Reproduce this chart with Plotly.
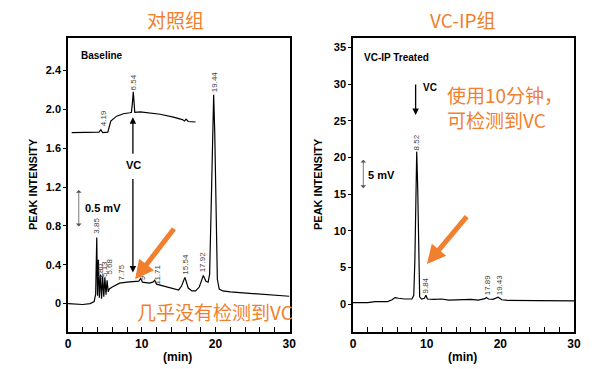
import plotly.graph_objects as go

# ---------------- data ----------------
# Left panel: main chromatogram (control)
ctrl_t = [0.0, 1.0, 2.0, 3.0, 3.55, 3.75, 3.9, 4.0, 4.12, 4.25, 4.4, 4.55, 4.7, 4.85, 5.0, 5.15,
          5.3, 5.45, 5.6, 6.0, 7.0, 8.0, 9.0, 9.6, 9.85, 10.1, 11.0, 11.5, 11.75, 12.0, 13.0,
          14.0, 15.0, 15.4, 15.85, 16.3, 16.8, 17.3, 17.8, 18.35, 18.7, 19.0, 19.2, 19.4,
          19.6, 19.75, 19.9, 20.05, 20.25, 20.5, 21.0, 22.0, 24.0, 26.6, 28.0, 30.0]
ctrl_v = [0.0, -0.005, -0.01, 0.0, 0.02, 0.10, 0.68, 0.08, 0.45, 0.06, 0.30, 0.05, 0.28, 0.07, 0.27, 0.09,
          0.24, 0.12, 0.15, 0.17, 0.21, 0.22, 0.225, 0.23, 0.26, 0.22, 0.21, 0.22, 0.24, 0.20, 0.18,
          0.16, 0.14, 0.18, 0.27, 0.16, 0.13, 0.13, 0.17, 0.29, 0.23, 0.22, 0.30, 0.95,
          1.75, 2.15, 1.75, 0.95, 0.25, 0.15, 0.13, 0.12, 0.11, 0.096, 0.085, 0.075]

# Left panel: baseline inset trace
base_t = [0.5, 3.7, 4.2, 4.45, 4.7, 5.4, 5.6, 5.8, 6.6, 7.5, 8.4, 8.6, 8.75, 8.85, 8.95, 9.05,
          9.8, 11.0, 12.5, 14.3, 15.5, 15.8, 16.0, 16.3, 17.3]
base_v = [1.76, 1.76, 1.765, 1.79, 1.76, 1.765, 1.82, 1.88, 1.93, 1.955, 1.965, 1.97, 2.08, 2.18, 2.08, 1.97,
          1.975, 1.965, 1.95, 1.92, 1.895, 1.88, 1.90, 1.875, 1.87]

# Right panel: VC-IP treated
trt_t = [0.0, 1.0, 2.0, 3.0, 4.0, 4.7, 5.3, 5.7, 6.2, 7.0, 8.0, 8.25, 8.4, 8.55, 8.65, 8.78, 8.92,
         9.05, 9.3, 9.7, 9.9, 10.1, 11.0, 12.0, 13.0, 14.0, 15.0, 16.0, 17.0, 17.9, 18.1, 18.4,
         19.0, 19.7, 20.2, 21.0, 25.0, 30.0]
trt_v = [0.2, 0.15, 0.2, 0.35, 0.4, 0.35, 0.6, 0.9, 0.8, 0.7, 0.7, 1.2, 6.0, 16.0, 20.8, 16.0, 6.0,
         1.0, 0.7, 0.8, 1.2, 0.7, 0.65, 0.7, 0.55, 0.6, 0.55, 0.65, 0.55, 0.75, 0.9, 0.7,
         0.65, 0.95, 0.6, 0.5, 0.48, 0.45]

# Peak labels (text, position of label)
ctrl_peak_labels = ["3.85", "4.80", "5.13", "5.68", "7.75", "9", "11.71", "15.54", "17.92", "19.44"]
ctrl_peak_lx = [3.9, 4.35, 4.94, 5.62, 7.31, 10.03, 12.07, 15.92, 18.19, 19.8]
ctrl_peak_ly = [0.80, 0.33, 0.36, 0.385, 0.32, 0.27, 0.30, 0.405, 0.426, 2.28]
base_peak_labels = ["4.19", "6.54"]
base_peak_lx = [4.75, 8.84]
base_peak_ly = [1.91, 2.28]
trt_peak_labels = ["8.52", "9.84", "17.89", "19.43"]
trt_peak_lx = [8.64, 9.9, 18.22, 19.85]
trt_peak_ly = [22.0, 2.53, 2.6, 2.6]

x_tickvals = list(range(0, 31, 2))
x_ticktext = [str(v) if v % 10 == 0 else "" for v in x_tickvals]
left_y_ticks = [0, 0.4, 0.8, 1.2, 1.6, 2.0, 2.4]
left_y_text = ["0", "0.4", "0.8", "1.2", "1.6", "2.0", "2.4"]
right_y_ticks = [0, 5, 10, 15, 20, 25, 30, 35]

# ---------------- figure ----------------
W, H = 600, 369
ORANGE = "#F07F2E"
LAT = "Liberation Sans, Arial, sans-serif"
CJK = "Noto Sans CJK SC, sans-serif"

def px(x):
    return x / W

def py(y):
    return 1 - y / H

fig = go.Figure()
line = dict(color="black", width=1.2)
fig.add_trace(go.Scatter(x=ctrl_t, y=ctrl_v, mode="lines", line=line, xaxis="x", yaxis="y", hoverinfo="skip"))
fig.add_trace(go.Scatter(x=base_t, y=base_v, mode="lines", line=line, xaxis="x", yaxis="y", hoverinfo="skip"))
fig.add_trace(go.Scatter(x=trt_t, y=trt_v, mode="lines", line=line, xaxis="x2", yaxis="y2", hoverinfo="skip"))

ydom = [py(332), py(38)]
common_x = dict(range=[0, 30.1], tickvals=x_tickvals, ticktext=x_ticktext, ticks="inside", ticklen=5,
                tickcolor="black", tickwidth=1, showline=True, linecolor="black", linewidth=1.5,
                mirror=True, showgrid=False, zeroline=False, automargin=False,
                tickfont=dict(family=LAT, size=12, color="black", weight="bold"))
common_y = dict(ticks="outside", ticklen=3, tickcolor="black", tickwidth=1, showline=True,
                linecolor="black", linewidth=1.5, mirror=True, showgrid=False, zeroline=False,
                automargin=False,
                tickfont=dict(family=LAT, size=11, color="black", weight="bold"))

fig.update_layout(
    width=W, height=H, margin=dict(l=0, r=0, t=0, b=0, autoexpand=False),
    plot_bgcolor="white", paper_bgcolor="white", showlegend=False,
    xaxis=dict(domain=[px(68), px(290)], anchor="y", **common_x),
    yaxis=dict(domain=ydom, anchor="x", range=[-0.293, 2.735], tickvals=left_y_ticks,
               ticktext=left_y_text, **common_y),
    xaxis2=dict(domain=[px(353), px(574)], anchor="y2", **{**common_x, "range": [0, 30]}),
    yaxis2=dict(domain=ydom, anchor="x2", range=[-3.8, 36.3], tickvals=right_y_ticks, **common_y),
)

ann = []

def txt(text, x, y, xref, yref, size, color="black", bold=True, family=LAT, **kw):
    d = dict(text=text, x=x, y=y, xref=xref, yref=yref, showarrow=False,
             xanchor="center", yanchor="middle",
             font=dict(family=family, size=size, color=color, weight="bold" if bold else "normal"))
    d.update(kw)
    ann.append(d)

# titles
txt("对照组", px(175), py(20), "paper", "paper", 19, ORANGE, False, CJK)
txt("VC-IP组", px(462), py(20), "paper", "paper", 19, ORANGE, False, CJK)
# axis titles
txt("PEAK INTENSITY", px(33), py(184), "paper", "paper", 11, textangle=-90)
txt("PEAK INTENSITY", px(318), py(184), "paper", "paper", 11, textangle=-90)
txt("(min)", px(177), py(357), "paper", "paper", 12)
txt("(min)", px(462), py(357), "paper", "paper", 12)

# panel texts
txt("Baseline", 4.6, 2.55, "x", "y", 10)
txt("VC", 8.84, 1.43, "x", "y", 11)
txt("0.5 mV", 4.76, 0.98, "x", "y", 11)
txt("VC-IP Treated", 5.9, 33.6, "x2", "y2", 10)
txt("VC", 10.45, 29.5, "x2", "y2", 10)
txt("5 mV", 3.93, 17.6, "x2", "y2", 11)

# peak labels
for lab, lx, ly in zip(ctrl_peak_labels, ctrl_peak_lx, ctrl_peak_ly):
    txt(lab, lx, ly, "x", "y", 8, "#444", False, textangle=-90)
for lab, lx, ly in zip(base_peak_labels, base_peak_lx, base_peak_ly):
    txt(lab, lx, ly, "x", "y", 8, "#444", False, textangle=-90)
for lab, lx, ly in zip(trt_peak_labels, trt_peak_lx, trt_peak_ly):
    txt(lab, lx, ly, "x2", "y2", 8, "#444", False, textangle=-90)

def arrow(x, y, ax, ay, xref, yref, color="black", width=1.3, head=2, size=1.0, both=False):
    d = dict(text="", x=x, y=y, ax=ax, ay=ay, xref=xref, yref=yref, showarrow=True,
             arrowcolor=color, arrowwidth=width, arrowhead=head, arrowsize=size, standoff=0)
    if both:
        d.update(arrowside="end+start", startarrowhead=head, startarrowsize=size, startstandoff=0)
    ann.append(d)

# black arrows left
arrow(8.8, 1.92, 0, 38, "x", "y")
arrow(8.8, 0.32, 0, -95, "x", "y")
arrow(1.46, 1.17, 0, 38, "x", "y", color="#555", width=0.8, head=1, size=1.2, both=True)
# black arrows right
arrow(8.5, 25.8, 0, -32, "x2", "y2")
arrow(1.4, 19.7, 0, 30, "x2", "y2", color="#555", width=0.8, head=1, size=1.2, both=True)

# orange arrows
arrow(9.1, 0.25, 40, -52, "x", "y", color=ORANGE, width=5, head=2, size=0.75)
arrow(10.04, 5.46, 41, -49, "x2", "y2", color=ORANGE, width=5, head=2, size=0.75)

# orange comments
txt("几乎没有检测到VC", px(135), py(311), "paper", "paper", 19, ORANGE, False, CJK, xanchor="left")
txt("使用10分钟，<br>可检测到VC", px(445), py(107), "paper", "paper", 19, ORANGE, False, CJK,
    xanchor="left", align="left")

fig.update_layout(annotations=ann)
fig.write_html("out.html", config={"displayModeBar": False},
               post_script="document.body.style.margin='0px';")
